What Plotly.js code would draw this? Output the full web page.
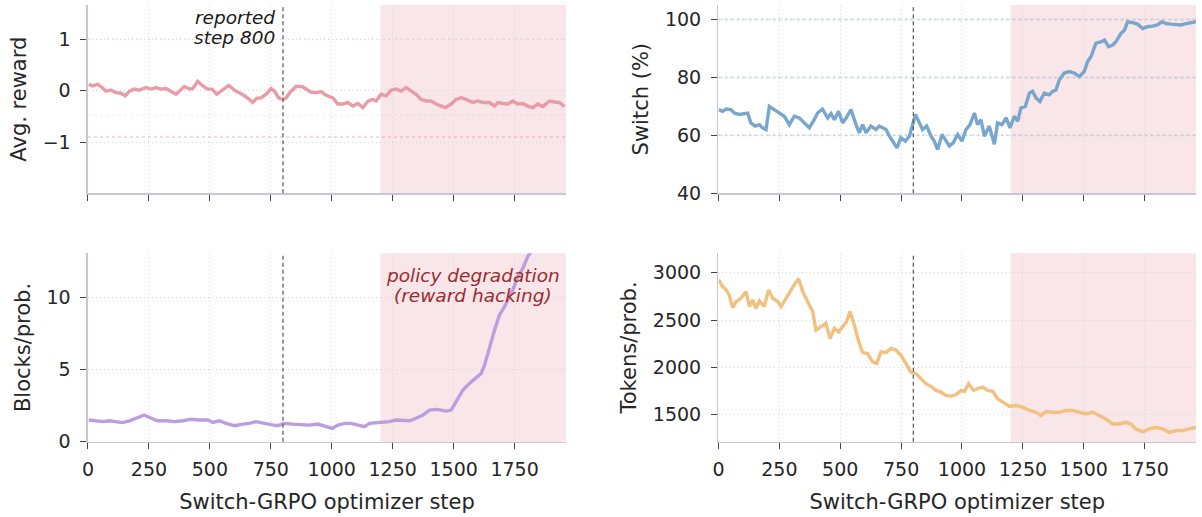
<!DOCTYPE html>
<html>
<head>
<meta charset="utf-8">
<script src="https://cdn.plot.ly/plotly-3.0.1.min.js"></script>
<style>html,body{margin:0;padding:0;background:#fff}#chart{width:1202px;height:517px}</style>
</head>
<body>
<div id="chart"></div>
<script>
// ---------------- data ----------------
const stepRange = [0, 1961];
const xTickVals = [0, 250, 500, 750, 1000, 1250, 1500, 1750];
const reportedStep = 800;
const hackingStart = 1200;

const rewardSteps = [3,19,40,53,74,94,115,135,153,170,190,211,238,259,279,300,320,341,361,375,395,416,430,450,471,491,509,528,553,577,601,621,642,662,676,692,710,731,751,765,782,799,813,833,854,878,895,915,936,956,977,1004,1025,1045,1066,1086,1107,1127,1148,1168,1182,1202,1223,1244,1264,1285,1305,1326,1346,1367,1387,1408,1428,1449,1466,1490,1510,1531,1551,1579,1599,1620,1647,1668,1681,1702,1722,1743,1763,1784,1804,1825,1845,1866,1893,1914,1934,1955];
const rewardValues = [0.12,0.09,0.12,0.08,-0.01,0.01,-0.04,-0.05,-0.10,-0.01,0.03,0.01,0.06,0.03,0.06,0.03,0.04,-0.01,-0.07,-0.01,0.08,0.03,0.04,0.18,0.09,0.03,0.03,-0.07,0.01,0.10,0.01,-0.04,-0.10,-0.17,-0.23,-0.15,-0.14,-0.07,0.04,-0.01,-0.14,-0.17,-0.14,-0.01,0.08,0.08,0.03,-0.03,-0.04,-0.02,-0.09,-0.14,-0.26,-0.26,-0.23,-0.30,-0.25,-0.33,-0.21,-0.17,-0.20,-0.07,-0.10,0.01,0.03,-0.01,0.06,-0.01,-0.07,-0.17,-0.20,-0.20,-0.26,-0.30,-0.33,-0.26,-0.17,-0.14,-0.17,-0.23,-0.20,-0.23,-0.23,-0.30,-0.23,-0.25,-0.26,-0.20,-0.26,-0.25,-0.30,-0.33,-0.26,-0.31,-0.20,-0.22,-0.23,-0.31];
const rewardDenseBands = [-0.9];
const rewardSparseBands = [1.0, -0.47];

const switchSteps = [1,17,31,51,65,86,106,120,133,151,168,181,195,209,229,250,270,291,311,332,352,373,393,407,427,448,462,476,493,510,524,544,565,578,592,606,626,647,660,674,688,702,715,733,749,767,784,795,809,825,838,855,873,886,900,918,934,948,964,982,1000,1016,1033,1051,1064,1078,1092,1112,1133,1146,1164,1181,1197,1215,1229,1242,1260,1277,1290,1304,1320,1338,1359,1372,1386,1400,1420,1441,1461,1482,1502,1516,1530,1550,1571,1585,1602,1619,1632,1653,1667,1680,1701,1721,1742,1762,1783,1803,1821,1838,1858,1879,1899,1920,1940,1961];
const switchValues = [68.9,68.3,69.1,68.9,67.7,67.2,67.5,67.7,64.3,63.2,63.7,62.6,62.0,70.0,68.9,67.7,66.6,63.7,66.6,66.0,64.3,62.6,65.4,67.7,69.1,66.0,67.5,65.4,68.3,64.3,66.0,68.9,63.7,60.9,63.7,60.9,63.2,62.0,63.2,62.6,62.0,59.7,58.0,55.7,59.2,58.0,59.7,62.6,67.2,64.3,62.0,63.2,59.7,58.0,55.1,60.3,58.0,56.3,57.4,60.3,58.0,62.0,63.7,67.7,63.7,65.4,59.7,63.2,56.9,64.3,63.7,66.0,62.6,66.6,64.9,69.5,70.0,74.6,75.2,72.9,71.7,74.6,74.0,75.2,75.7,79.2,81.5,82.0,81.5,80.3,82.0,85.5,87.2,91.8,92.3,92.9,90.6,91.2,92.3,95.2,96.3,99.2,98.9,98.4,96.9,97.5,97.7,98.1,99.2,98.6,98.4,98.1,98.1,98.6,98.9,99.2];
const switchBands = [100, 80, 60];

const blocksSteps = [3,33,60,88,115,142,170,197,231,259,286,320,354,389,423,457,491,512,539,566,601,635,662,689,717,751,778,806,840,874,908,943,970,1001,1025,1052,1079,1107,1134,1155,1182,1209,1237,1264,1291,1319,1346,1374,1401,1428,1449,1469,1490,1510,1538,1565,1592,1613,1627,1640,1654,1668,1688,1709,1722,1743,1763,1784,1804,1818,1860,1910,1961];
const blocksValues = [1.50,1.45,1.39,1.45,1.39,1.32,1.45,1.62,1.85,1.62,1.45,1.45,1.39,1.45,1.55,1.50,1.50,1.34,1.45,1.27,1.11,1.22,1.27,1.39,1.27,1.18,1.11,1.27,1.22,1.20,1.15,1.22,1.09,0.92,1.15,1.27,1.27,1.15,1.04,1.27,1.32,1.34,1.39,1.50,1.50,1.45,1.62,1.85,2.19,2.24,2.19,2.12,2.19,2.77,3.58,4.04,4.39,4.73,5.31,6.12,6.93,7.74,8.78,9.35,9.82,10.51,11.43,12.01,12.82,13.16,13.6,14.2,14.8];

const tokensSteps = [1,17,31,44,58,72,92,113,127,140,154,168,188,206,222,243,257,277,294,311,329,346,366,387,400,421,441,458,476,493,510,526,540,558,576,592,612,633,650,667,688,708,729,749,770,790,811,832,852,877,893,914,934,955,975,996,1010,1027,1047,1064,1085,1105,1126,1146,1167,1194,1222,1249,1277,1304,1324,1345,1372,1400,1427,1454,1482,1509,1537,1564,1591,1619,1646,1674,1694,1714,1742,1769,1796,1824,1851,1879,1906,1933,1961];
const tokensValues = [2926,2855,2819,2766,2631,2695,2730,2801,2642,2713,2624,2702,2642,2819,2730,2695,2642,2730,2801,2872,2936,2801,2695,2589,2394,2429,2465,2305,2411,2376,2429,2482,2589,2447,2270,2156,2145,2057,2039,2163,2156,2199,2181,2128,2039,1950,1933,1879,1826,1791,1755,1738,1702,1695,1709,1755,1745,1826,1755,1773,1791,1755,1745,1667,1631,1589,1596,1578,1543,1525,1489,1532,1525,1525,1543,1543,1525,1507,1525,1489,1454,1401,1401,1418,1401,1348,1319,1348,1365,1348,1312,1330,1330,1348,1365];

const yTicks = {reward: [-1, 0, 1], sw: [40, 60, 80, 100], blocks: [0, 5, 10], tokens: [1500, 2000, 2500, 3000]};

// ---------------- styling ----------------
const C = {
  reward: '#e89ca8', sw: '#78a6cc', blocks: '#bb9de0', tokens: '#f2c07f',
  shade: '#f8e6e8', dashed: '#555555', spine: '#c6c6d6', grid: '#d6d6d6',
  text: '#262626', red: '#9b2b30'
};
const FONT = 'DejaVu Sans, Liberation Sans, sans-serif';

const traces = [];
function band(levels, xa, ya, color, width) {
  levels.forEach(v => traces.push({
    x: stepRange, y: [v, v], xaxis: xa, yaxis: ya, mode: 'lines',
    line: {color: color, width: width, dash: 'dot'}, hoverinfo: 'skip'
  }));
}
band(rewardDenseBands, 'x', 'y', 'rgba(232,150,165,0.38)', 2);
band(rewardSparseBands, 'x', 'y', 'rgba(232,150,165,0.15)', 1.5);
band(switchBands, 'x2', 'y2', 'rgba(120,160,204,0.32)', 2);

function line(xs, ys, xa, ya, color) {
  traces.push({x: xs, y: ys, xaxis: xa, yaxis: ya, mode: 'lines',
    line: {color: color, width: 3.4}, hoverinfo: 'skip'});
}
line(rewardSteps, rewardValues, 'x', 'y', C.reward);
line(switchSteps, switchValues, 'x2', 'y2', C.sw);
line(blocksSteps, blocksValues, 'x3', 'y3', C.blocks);
line(tokensSteps, tokensValues, 'x4', 'y4', C.tokens);

const xL = [0.07321, 0.47088], xR = [0.59775, 0.99501];
const yT = [0.62611, 0.99033], yB = [0.14565, 0.51006];

function xaxis(domain, anchor, labels) {
  const a = {
    domain: domain, anchor: anchor, range: stepRange, tickvals: xTickVals,
    showticklabels: labels, ticks: 'outside', ticklen: 6, tickwidth: 1, tickcolor: '#444',
    showline: true, linecolor: C.spine, linewidth: 1.5, zeroline: false,
    showgrid: true, gridcolor: C.grid, griddash: '1px,3px', gridwidth: 1,
    tickfont: {family: FONT, size: 19, color: C.text}, ticklabelstandoff: 4
  };
  if (labels) a.title = {text: 'Switch-GRPO optimizer step', font: {family: FONT, size: 21, color: C.text}, standoff: 15};
  return a;
}
function yaxis(domain, anchor, range, ticks, title) {
  return {
    domain: domain, anchor: anchor, range: range, tickvals: ticks,
    ticks: 'outside', ticklen: 6, tickwidth: 1, tickcolor: '#444',
    showline: true, linecolor: C.spine, linewidth: 1.5, zeroline: false,
    showgrid: true, gridcolor: C.grid, griddash: '1px,3px', gridwidth: 1,
    tickfont: {family: FONT, size: 19, color: C.text}, ticklabelstandoff: 6,
    title: {text: title, font: {family: FONT, size: 21, color: C.text}, standoff: 10}
  };
}

const shapes = [];
[['x','y'],['x2','y2'],['x3','y3'],['x4','y4']].forEach(([xa, ya]) => {
  shapes.push({type: 'rect', xref: xa, yref: ya + ' domain', x0: hackingStart, x1: stepRange[1],
    y0: 0, y1: 1, fillcolor: C.shade, line: {width: 0}, layer: 'below'});
  shapes.push({type: 'line', xref: xa, yref: ya + ' domain', x0: reportedStep, x1: reportedStep,
    y0: 0, y1: 1, line: {color: C.dashed, width: 1.2, dash: '4px,3px'}, layer: 'above'});
});

function note(xref, x, yPaper, text, anchor, color) {
  return {xref: xref, yref: 'paper', x: x, y: yPaper, xanchor: anchor, yanchor: 'middle',
    text: '<i>' + text + '</i>', showarrow: false, borderpad: 0,
    font: {family: FONT, size: 18.5, color: color}};
}

const layout = {
  width: 1202, height: 517, margin: {l: 0, r: 0, t: 0, b: 0},
  paper_bgcolor: '#fff', plot_bgcolor: '#fff', showlegend: false,
  font: {family: FONT, color: C.text},
  xaxis: xaxis(xL, 'y', false),
  yaxis: yaxis(yT, 'x', [-1.99, 1.66], yTicks.reward, 'Avg. reward'),
  xaxis2: xaxis(xR, 'y2', false),
  yaxis2: yaxis(yT, 'x2', [40, 105], yTicks.sw, 'Switch (%)'),
  xaxis3: xaxis(xL, 'y3', true),
  yaxis3: yaxis(yB, 'x3', [0, 13.05], yTicks.blocks, 'Blocks/prob.'),
  xaxis4: xaxis(xR, 'y4', true),
  yaxis4: yaxis(yB, 'x4', [1213, 3206], yTicks.tokens, 'Tokens/prob.'),
  shapes: shapes,
  annotations: [
    note('x', 772, 0.9671, 'reported', 'right', '#1a1a1a'),
    note('x', 772, 0.9284, 'step 800', 'right', '#1a1a1a'),
    note('x3', 1580, 0.4662, 'policy degradation', 'center', C.red),
    note('x3', 1580, 0.4275, '(reward hacking)', 'center', C.red)
  ]
};

Plotly.newPlot('chart', traces, layout, {staticPlot: true, displayModeBar: false});
</script>
</body>
</html>
